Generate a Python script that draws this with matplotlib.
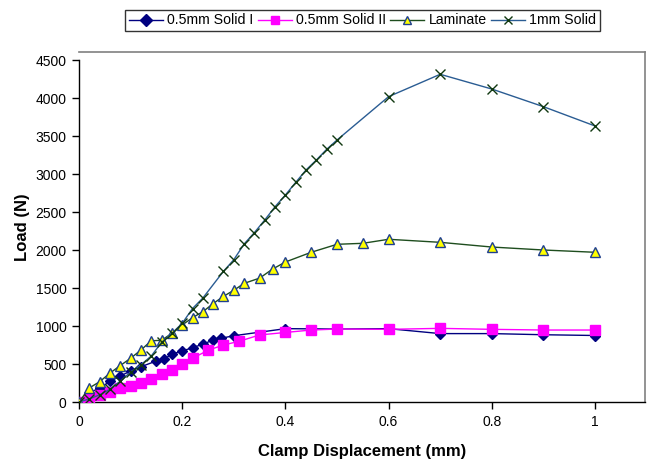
import matplotlib
matplotlib.use("Agg")
import matplotlib.pyplot as plt

plt.rcParams['font.family'] = ['Liberation Sans', 'DejaVu Sans']

# Clamp displacement (mm) and load (N) for each specimen
solid1_x = [0, 0.02, 0.04, 0.06, 0.08, 0.10, 0.12, 0.15, 0.165, 0.18, 0.20, 0.22,
            0.24, 0.26, 0.275, 0.30, 0.40, 0.50, 0.6, 0.7, 0.8, 0.9, 1.0]
solid1_y = [0, 120, 185, 270, 342, 408, 464, 540, 565, 630, 671, 715,
            760, 816, 838, 872, 965, 960, 965, 900, 900, 885, 875]

solid2_x = [0, 0.02, 0.04, 0.06, 0.08, 0.10, 0.12, 0.14, 0.16, 0.18, 0.20, 0.22,
            0.25, 0.28, 0.31, 0.35, 0.40, 0.45, 0.50, 0.6, 0.7, 0.8, 0.9, 1.0]
solid2_y = [0, 45, 90, 130, 180, 210, 250, 300, 370, 421, 500, 575,
            680, 750, 798, 882, 915, 947, 960, 956, 969, 956, 947, 947]

laminate_x = [0, 0.02, 0.04, 0.06, 0.08, 0.10, 0.12, 0.14, 0.16, 0.18, 0.20, 0.22,
              0.24, 0.26, 0.28, 0.30, 0.32, 0.35, 0.375, 0.40, 0.45, 0.50, 0.55,
              0.6, 0.7, 0.8, 0.9, 1.0]
laminate_y = [0, 185, 267, 380, 480, 575, 684, 805, 812, 904, 1013, 1110,
              1188, 1295, 1390, 1470, 1561, 1630, 1748, 1842, 1970, 2075, 2088,
              2141, 2101, 2039, 2000, 1970]

solid1mm_x = [0, 0.02, 0.04, 0.06, 0.08, 0.10, 0.12, 0.14, 0.16, 0.18, 0.20, 0.22,
              0.24, 0.28, 0.30, 0.32, 0.34, 0.36, 0.38, 0.40, 0.42, 0.44, 0.46,
              0.48, 0.50, 0.6, 0.7, 0.8, 0.9, 1.0]
solid1mm_y = [0, 40, 95, 167, 275, 395, 490, 605, 785, 904, 1035, 1230,
              1368, 1720, 1872, 2079, 2230, 2395, 2570, 2724, 2890, 3053, 3184,
              3325, 3447, 4018, 4312, 4118, 3886, 3632]

x_ticks = [0, 0.2, 0.4, 0.6, 0.8, 1.0]
x_tick_labels = ['0', '0.2', '0.4', '0.6', '0.8', '1']
y_ticks = [0, 500, 1000, 1500, 2000, 2500, 3000, 3500, 4000, 4500]

W, H = 647, 461
fig = plt.figure(figsize=(W / 100, H / 100), dpi=100)
ax = fig.add_axes([79 / W, (H - 402) / H, (645 - 79) / W, (402 - 52) / H])

ax.plot(solid1_x, solid1_y, color='#000080', lw=1.0, marker='D', ms=5,
        mfc='#000080', mec='#000080', label='0.5mm Solid I', zorder=3)
ax.plot(solid2_x, solid2_y, color='#FF00FF', lw=1.0, marker='s', ms=6.5,
        mfc='#FF00FF', mec='#FF00FF', label='0.5mm Solid II', zorder=3)
ax.plot(laminate_x, laminate_y, color='#1E4D1E', lw=1.0, marker='^', ms=7,
        mfc='#FFFF00', mec='#1F3F8F', mew=1.0, label='Laminate', zorder=4)
ax.plot(solid1mm_x, solid1mm_y, color='#2A5C93', lw=1.0, marker='x', ms=7,
        mec='#103810', mew=1.0, label='1mm Solid', zorder=5)

ymax = 4500 * (402 - 52) / (402 - 60)
ax.set_xlim(0, (645 - 79) / 516)
ax.set_ylim(0, ymax)
ax.set_xticks(x_ticks)
ax.set_xticklabels(x_tick_labels)
ax.set_yticks(y_ticks)
ax.tick_params(axis='both', direction='out', length=5, width=1, color='black',
               labelsize=10, pad=4)

ax.spines['left'].set_bounds(0, 4500)
ax.spines['left'].set_color('black')
ax.spines['bottom'].set_color('black')
for s in ('top', 'right'):
    ax.spines[s].set_color('#808080')
    ax.spines[s].set_linewidth(1.2)
ax.spines['left'].set_linewidth(1.0)
ax.spines['bottom'].set_linewidth(1.0)

ax.set_xlabel('Clamp Displacement (mm)', fontsize=12, fontweight='bold', labelpad=11)
ax.set_ylabel('Load (N)', fontsize=12, fontweight='bold', labelpad=4)

leg = fig.legend(loc='center', bbox_to_anchor=(362.5 / W, 1 - 20.5 / H), ncol=4,
                 fontsize=10.2, frameon=True, fancybox=False, edgecolor='black',
                 handlelength=2.4, handletextpad=0.3, columnspacing=0.3,
                 borderpad=0.25, borderaxespad=0)
leg.get_frame().set_linewidth(1.0)
for h in leg.legend_handles:
    h.set_markersize(6)

fig.savefig('out.png', dpi=100)
